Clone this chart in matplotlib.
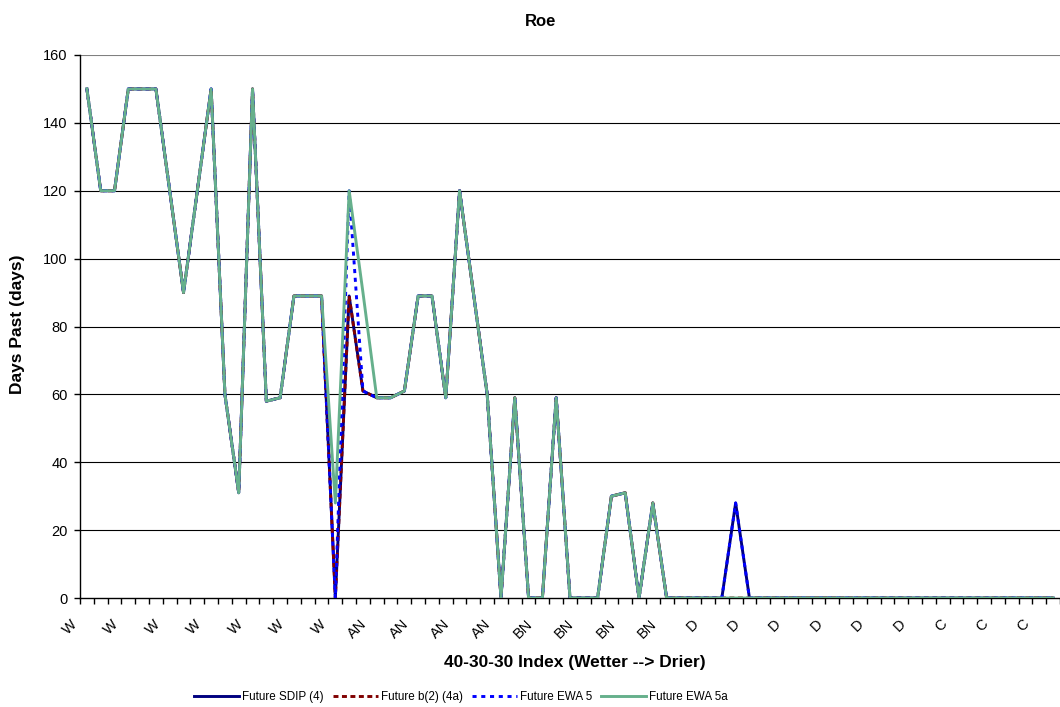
import matplotlib
matplotlib.use('Agg')
import matplotlib.pyplot as plt
import matplotlib.transforms as mtransforms
import numpy as np
from matplotlib.lines import Line2D

plt.rcParams['font.family'] = ['Liberation Sans', 'DejaVu Sans']

# ---- data ----
categories = ['W'] * 21 + ['AN'] * 12 + ['BN'] * 12 + ['D'] * 18 + ['C'] * 8

ewa5a = [150, 120, 120, 150, 150, 150, 120, 90, 120, 150,
         60, 31, 150, 58, 59, 89, 89, 89, 28, 120,
         90, 59, 59, 61, 89, 89, 59, 120, 90, 60,
         0, 59, 0, 0, 59, 0, 0, 0, 30, 31,
         0, 28, 0, 0, 0, 0, 0, 0, 0, 0,
         0, 0, 0, 0, 0, 0, 0, 0, 0, 0,
         0, 0, 0, 0, 0, 0, 0, 0, 0, 0, 0]

sdip4 = [150, 120, 120, 150, 150, 150, 120, 90, 120, 150,
         60, 31, 150, 58, 59, 89, 89, 89, 0, 89,
         61, 59, 59, 61, 89, 89, 59, 120, 90, 60,
         0, 59, 0, 0, 59, 0, 0, 0, 30, 31,
         0, 28, 0, 0, 0, 0, 0, 28, 0, 0,
         0, 0, 0, 0, 0, 0, 0, 0, 0, 0,
         0, 0, 0, 0, 0, 0, 0, 0, 0, 0, 0]

b2_4a = [150, 120, 120, 150, 150, 150, 120, 90, 120, 150,
         60, 31, 150, 58, 59, 89, 89, 89, 0, 89,
         61, 59, 59, 61, 89, 89, 59, 120, 90, 60,
         0, 59, 0, 0, 59, 0, 0, 0, 30, 31,
         0, 28, 0, 0, 0, 0, 0, 0, 0, 0,
         0, 0, 0, 0, 0, 0, 0, 0, 0, 0,
         0, 0, 0, 0, 0, 0, 0, 0, 0, 0, 0]

ewa5 = [150, 120, 120, 150, 150, 150, 120, 90, 120, 150,
        60, 31, 150, 58, 59, 89, 89, 89, 0, 120,
        61, 59, 59, 61, 89, 89, 59, 120, 90, 60,
        0, 59, 0, 0, 59, 0, 0, 0, 30, 31,
        0, 28, 0, 0, 0, 0, 0, 28, 0, 0,
        0, 0, 0, 0, 0, 0, 0, 0, 0, 0,
        0, 0, 0, 0, 0, 0, 0, 0, 0, 0, 0]

series_names = ['Future SDIP (4)', 'Future b(2) (4a)', 'Future EWA 5', 'Future EWA 5a']
y_ticks = [0, 20, 40, 60, 80, 100, 120, 140, 160]

# ---- figure ----
W, H = 1060, 707
fig = plt.figure(figsize=(W / 100, H / 100), dpi=100)
ax = fig.add_axes([80 / W, 1 - 598 / H, 980 / W, 543 / H])

x = np.arange(len(categories))
n = len(categories)

LW = 2.1
styles = [
    dict(color='#000080', lw=LW),
    dict(color='#800000', lw=LW, dashes=(1.7, 1.2)),
    dict(color='#0000FF', lw=LW, dashes=(1.4, 1.6)),
    dict(color='#66B08C', lw=LW),
]
for data, st, z in zip([sdip4, b2_4a, ewa5, ewa5a], styles, [3, 4, 5, 6]):
    ax.plot(x, data, zorder=z, **st)

ax.set_xlim(-0.5, n - 0.5)
ax.set_ylim(0, 160)
ax.set_yticks(y_ticks)
ax.set_yticklabels([str(v) for v in y_ticks])
for v in y_ticks[1:]:
    ax.axhline(v, color='#808080' if v == 160 else '#000000', lw=0.8, zorder=1)

for s in ['top', 'right']:
    ax.spines[s].set_visible(False)
for s in ['left', 'bottom']:
    ax.spines[s].set_color('black')
    ax.spines[s].set_linewidth(1.0)
ax.tick_params(axis='y', length=4.5, width=1, pad=4.5, labelsize=10.5)

lab_idx = np.arange(0, n, 3)
ax.set_xticks(lab_idx)
ax.set_xticklabels([''] * len(lab_idx))
ax.set_xticks(np.arange(-0.5, n, 1), minor=True)
ax.tick_params(axis='x', which='major', length=0)
ax.tick_params(axis='x', which='minor', length=4, width=1)

trans = mtransforms.blended_transform_factory(ax.transData, ax.transAxes)
offset = mtransforms.ScaledTranslation(-12 / 100, -24 / 100, fig.dpi_scale_trans)
for i in lab_idx:
    ax.text(i, 0, categories[i], transform=trans + offset, rotation=45,
            rotation_mode='anchor', ha='right', va='center', fontsize=10.5)

fig.text(541 / W, 1 - 22 / H, 'Roe', ha='center', va='center', fontsize=12, fontweight='bold')
fig.text(18 / W, 1 - 324 / H, 'Days Past (days)', ha='center', va='center', rotation=90,
         fontsize=12.5, fontweight='bold')
fig.text(575 / W, 1 - 662 / H, '40-30-30 Index (Wetter --> Drier)', ha='center', va='center',
         fontsize=12.5, fontweight='bold')

handles = [Line2D([], [], **st) for st in styles]
fig.legend(handles, series_names, loc='center', bbox_to_anchor=(461 / W, 1 - 697 / H), ncol=4,
           frameon=False, fontsize=8.4, handlelength=3.85, handletextpad=0.25, columnspacing=0.8,
           borderaxespad=0, borderpad=0)

fig.savefig('out.png', dpi=100)
